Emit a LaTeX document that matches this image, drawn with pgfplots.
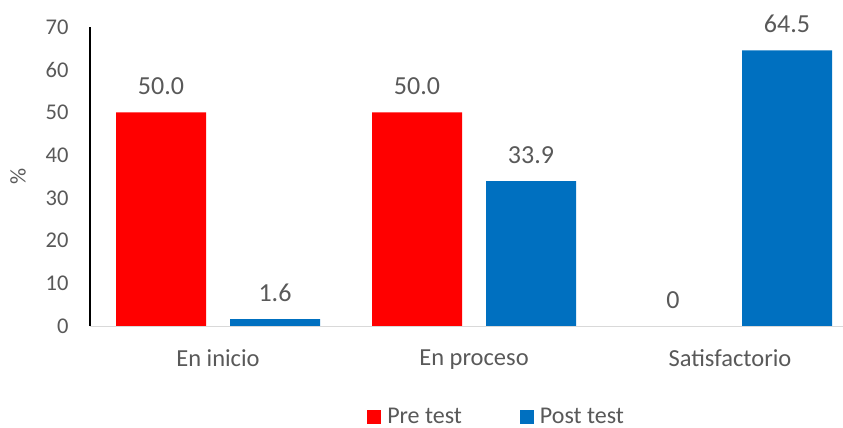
\documentclass[border=0pt]{standalone}
\usepackage{pgfplots}
\pgfplotsset{compat=1.18}
\usepackage{fontspec}
\setmainfont{Carlito}
\definecolor{redbar}{HTML}{FF0000}
\definecolor{bluebar}{HTML}{0070C0}
\definecolor{txt}{HTML}{595959}
\definecolor{axgray}{HTML}{D9D9D9}
\begin{document}
\begin{tikzpicture}
\useasboundingbox (0,0) rectangle (843bp,428bp);
\begin{axis}[
  at={(90bp,102bp)}, anchor=south west,
  scale only axis,
  width=753bp, height=299bp,
  ybar=24bp, bar width=90bp,
  xmin=-0.5, xmax=2.4414,
  ymin=0, ymax=70,
  xtick={0,1,2},
  xticklabels={En inicio,En proceso,Satisfactorio},
  ytick={0,10,...,70},
  /pgf/number format/assume math mode=true,
  major tick length=0pt,
  axis x line*=bottom,
  axis y line*=left,
  x axis line style={draw=axgray, line width=1bp, -},
  y axis line style={draw=black, line width=1.2bp, -},
  xticklabel style={font=\fontsize{24.5bp}{26bp}\selectfont, text=txt, yshift=-20bp},
  yticklabel style={font=\fontsize{22.5bp}{24bp}\selectfont, text=txt, xshift=-18bp},
  ylabel={\%},
  ylabel style={font=\fontsize{22.5bp}{24bp}\selectfont, text=txt, at={(rel axis cs:0,0.5)}, anchor=center, yshift=72bp},
  nodes near coords,
  point meta=explicit symbolic,
  every node near coord/.append style={font=\fontsize{26bp}{28bp}\selectfont, text=txt, anchor=base, yshift=18bp},
  legend columns=2,
  legend style={draw=none, at={(0.54,-0.303)}, anchor=center,
    font=\fontsize{24bp}{26bp}\selectfont, text=txt,
    /tikz/every even column/.append style={column sep=56bp}},
  legend image code/.code={\fill[#1] (0bp,-7bp) rectangle (14bp,7bp); \path (18bp,0bp);},
]
\addplot[fill=redbar, draw=none] coordinates {(0,50.0) [50.0] (1,50.0) [50.0] (2,0) [0]};
\addplot[fill=bluebar, draw=none] coordinates {(0,1.6) [1.6] (1,33.9) [33.9] (2,64.5) [64.5]};
\legend{Pre test,Post test}
\end{axis}
\end{tikzpicture}
\end{document}
